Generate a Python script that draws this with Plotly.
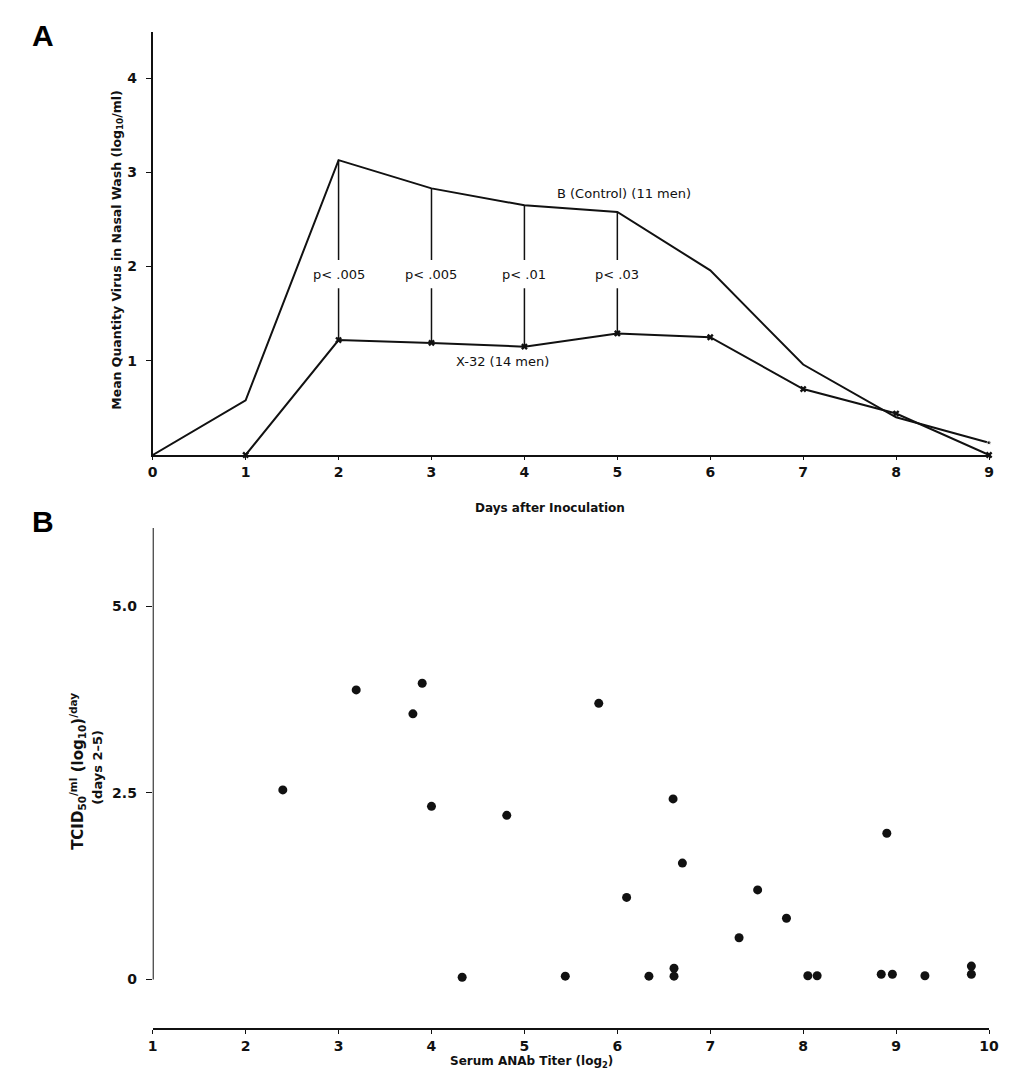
import plotly.graph_objects as go

# ---------------- Data ----------------
days = [0, 1, 2, 3, 4, 5, 6, 7, 8, 9]
control_b = [0.0, 0.58, 3.13, 2.83, 2.65, 2.58, 1.96, 0.96, 0.40, 0.13]
x32_days = [1, 2, 3, 4, 5, 6, 7, 8, 9]
x32_vals = [0.0, 1.22, 1.19, 1.15, 1.29, 1.25, 0.70, 0.44, 0.0]
p_days = [2, 3, 4, 5]
p_labels = ["p< .005", "p< .005", "p< .01", "p< .03"]

titer = [2.40, 3.19, 3.90, 3.80, 4.00, 4.33, 4.81, 5.80, 6.60, 6.70, 6.10,
         7.51, 7.82, 7.31, 8.90, 5.44, 6.34, 6.61, 6.61, 8.05, 8.15, 8.84,
         8.96, 9.31, 9.81, 9.81]
tcid = [2.54, 3.88, 3.97, 3.56, 2.32, 0.03, 2.20, 3.70, 2.42, 1.56, 1.10,
        1.20, 0.82, 0.56, 1.96, 0.045, 0.045, 0.15, 0.045, 0.05, 0.05, 0.07,
        0.07, 0.05, 0.18, 0.07]

# ---------------- Layout helpers ----------------
W, H = 1008, 1064
XOFF, XSPAN = 12.0, 995.0   # observed horizontal placement of the figure
YOFF = 8


def px(r):
    return (r - XOFF) / XSPAN


def py(r):
    return 1 - (r - YOFF) / H


INK = "#111111"
FONT = "DejaVu Sans"
fig = go.Figure()

# Panel A
fig.add_trace(go.Scatter(
    x=days, y=control_b, mode="lines+markers", xaxis="x", yaxis="y",
    line=dict(color=INK, width=2),
    marker=dict(size=[0] * (len(days) - 1) + [4], color=INK),
    cliponaxis=False, showlegend=False))
fig.add_trace(go.Scatter(
    x=x32_days, y=x32_vals, mode="lines+markers", xaxis="x", yaxis="y",
    line=dict(color=INK, width=2),
    marker=dict(symbol="x", size=6, color=INK),
    cliponaxis=False, showlegend=False))

label_y = 1.92
gap = 0.15
shapes = []
annotations = []
for d, lab in zip(p_days, p_labels):
    top = control_b[days.index(d)]
    bot = x32_vals[x32_days.index(d)]
    shapes.append(dict(type="line", xref="x", yref="y", x0=d, x1=d,
                       y0=top, y1=label_y + gap, line=dict(color=INK, width=1.5)))
    shapes.append(dict(type="line", xref="x", yref="y", x0=d, x1=d,
                       y0=label_y - gap, y1=bot, line=dict(color=INK, width=1.5)))
    annotations.append(dict(x=d, y=label_y, xref="x", yref="y", text=lab,
                            showarrow=False, xanchor="center", yanchor="middle",
                            font=dict(family=FONT, size=13, color=INK)))

annotations.append(dict(x=5.07, y=2.78, xref="x", yref="y",
                        text="B (Control) (11 men)", showarrow=False,
                        xanchor="center", yanchor="middle",
                        font=dict(family=FONT, size=13, color=INK)))
annotations.append(dict(x=3.76, y=0.99, xref="x", yref="y",
                        text="X-32 (14 men)", showarrow=False,
                        xanchor="center", yanchor="middle",
                        font=dict(family=FONT, size=13, color=INK)))

# Panel B
fig.add_trace(go.Scatter(
    x=titer, y=tcid, mode="markers", xaxis="x2", yaxis="y2",
    marker=dict(size=9, color=INK), cliponaxis=False, showlegend=False))

shapes.append(dict(type="line", xref="x2", yref="y2", x0=1, x1=1, y0=0, y1=6.05,
                   line=dict(color=INK, width=2)))

bold = dict(family=FONT, size=12, color=INK, weight="bold")
annotations += [
    dict(x=px(42), y=py(36), text="<b>A</b>",
         font=dict(family="Liberation Sans", size=30, color="#000")),
    dict(x=px(42), y=py(521), text="<b>B</b>",
         font=dict(family="Liberation Sans", size=30, color="#000")),
    dict(x=px(116), y=py(250),
         text="Mean Quantity Virus in Nasal Wash (log<sub>10</sub>/ml)",
         textangle=-90, font=dict(family=FONT, size=12.5, color=INK, weight="bold")),
    dict(x=px(550), y=py(508), text="Days after Inoculation", font=bold),
    dict(x=px(76), y=py(771),
         text="TCID<sub>50</sub><sup>/ml</sup> (log<sub>10</sub>)<sup>/day</sup>",
         textangle=-90, font=dict(family=FONT, size=15, color=INK, weight="bold")),
    dict(x=px(96), y=py(767), text="(days 2–5)", textangle=-90,
         font=dict(family=FONT, size=13, color=INK, weight="bold")),
    dict(x=px(532), y=py(1062), text="Serum ANAb Titer (log<sub>2</sub>)", font=bold),
]
for a in annotations[-7:]:
    a.update(xref="paper", yref="paper", showarrow=False,
             xanchor="center", yanchor="middle")

tickfont = dict(family=FONT, size=14, color=INK, weight="bold")
xdom = [px(152), px(990)]

fig.update_layout(
    width=W, height=H,
    margin=dict(l=0, r=0, t=0, b=0),
    paper_bgcolor="white", plot_bgcolor="white",
    shapes=shapes, annotations=annotations,
    xaxis=dict(domain=xdom, range=[0, 9], anchor="y", tickmode="array",
               tickvals=days, ticktext=[str(d) for d in days],
               showline=True, linecolor=INK, linewidth=2, ticks="outside",
               ticklen=3, tickcolor=INK, showgrid=False, zeroline=False,
               tickfont=tickfont),
    yaxis=dict(domain=[py(455), py(32)], range=[0, 4.49], anchor="x",
               tickmode="array", tickvals=[1, 2, 3, 4], ticktext=["1", "2", "3", "4"],
               showline=True, linecolor=INK, linewidth=2, ticks="outside",
               ticklen=5, tickcolor=INK, showgrid=False, zeroline=False,
               ticklabelstandoff=6, tickfont=tickfont),
    xaxis2=dict(domain=xdom, range=[1, 10], anchor="y2", tickmode="array",
                tickvals=list(range(1, 11)), ticktext=[str(v) for v in range(1, 11)],
                showline=True, linecolor=INK, linewidth=2, ticks="outside",
                ticklen=4, tickcolor=INK, showgrid=False, zeroline=False,
                tickfont=tickfont),
    yaxis2=dict(domain=[py(1028), py(528)], range=[-0.65, 6.05],
                anchor="x2", tickmode="array", tickvals=[0, 2.5, 5.0],
                ticktext=["0", "2.5", "5.0"], showline=False, ticks="outside",
                ticklen=6, tickcolor=INK, showgrid=False, zeroline=False,
                ticklabelstandoff=6, tickfont=tickfont),
)

fig.write_html("out.html")
